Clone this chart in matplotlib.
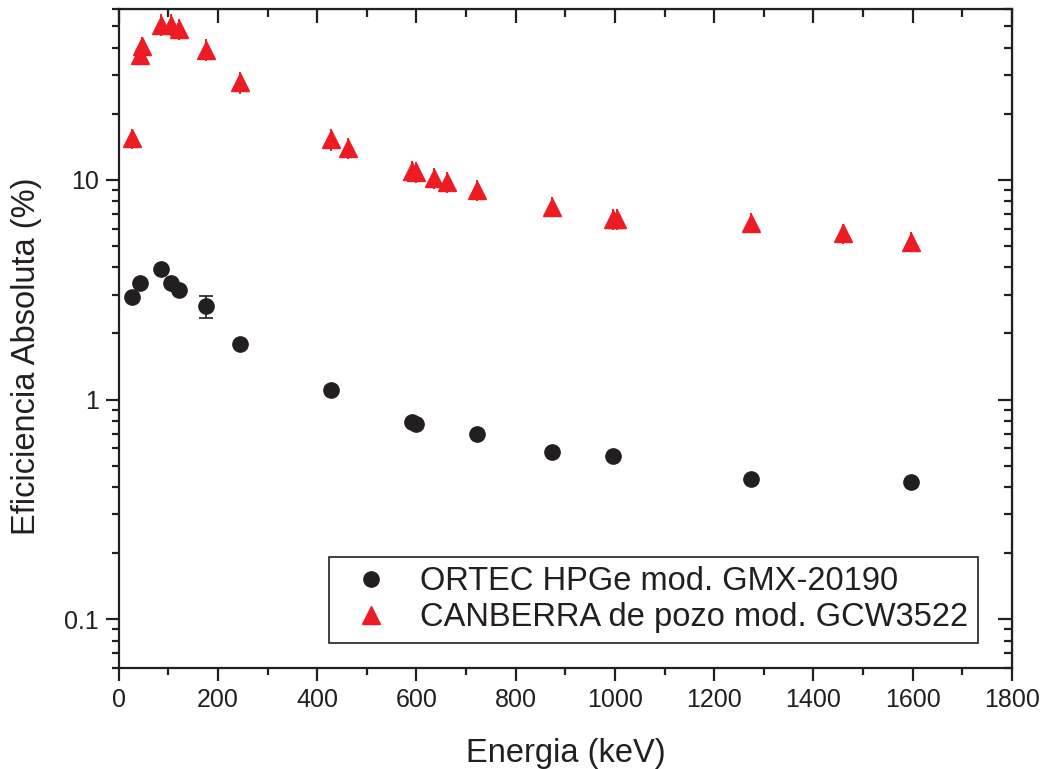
import matplotlib
matplotlib.use("Agg")
import matplotlib.pyplot as plt
from matplotlib.lines import Line2D
from matplotlib.ticker import LogLocator, MultipleLocator, FixedLocator, NullFormatter

plt.rcParams['font.family'] = ['Liberation Sans', 'DejaVu Sans']

# ORTEC HPGe (black circles)
ortec_e = [26, 42, 86, 105, 122, 176, 245, 427, 591, 600, 723, 873, 996, 1274, 1596]
ortec_eff = [2.92, 3.40, 3.94, 3.40, 3.15, 2.66, 1.79, 1.11, 0.79, 0.778, 0.697, 0.577, 0.555, 0.433, 0.420]
ortec_err = [0.06, 0.07, 0.08, 0.07, 0.07, 0.30, 0.04, 0.03, 0.02, 0.02, 0.015, 0.012, 0.012, 0.01, 0.01]

# CANBERRA well detector (red triangles)
canb_e = [26, 42, 46, 86, 105, 122, 176, 245, 427, 463, 591, 600, 636, 661, 723, 873, 996, 1005, 1274, 1460, 1596]
canb_eff = [15.5, 37.2, 40.5, 50.9, 50.9, 48.7, 39.2, 27.8, 15.3, 13.95, 10.98, 10.9, 10.2, 9.79, 9.0, 7.56, 6.64, 6.64, 6.39, 5.71, 5.23]
canb_err = [1.6, 4.0, 4.3, 5.8, 5.8, 5.5, 4.5, 3.1, 1.7, 1.5, 1.2, 1.2, 1.1, 1.05, 1.0, 0.8, 0.7, 0.7, 0.65, 0.6, 0.55]

labels = ['ORTEC HPGe mod. GMX-20190', 'CANBERRA de pozo mod. GCW3522']

ink = '#231f20'
red = '#ed1c24'

fig = plt.figure(figsize=(10.42, 7.69), dpi=100)
ax = fig.add_axes([0.1139, 0.1313, 0.9712 - 0.1139, 0.9883 - 0.1313])

ax.errorbar(ortec_e, ortec_eff, yerr=ortec_err, fmt='o', color=ink, ms=11,
            capsize=5, elinewidth=1.2, capthick=1.2, zorder=3)
ax.errorbar(canb_e, canb_eff, yerr=canb_err, fmt='^', color=red, ms=12.5,
            capsize=0, elinewidth=1.4, zorder=3)

ax.set_yscale('log')
ax.set_xlim(0, 1800)
ax.set_ylim(0.06, 60)
ax.xaxis.set_major_locator(MultipleLocator(200))
ax.xaxis.set_minor_locator(MultipleLocator(100))
ax.yaxis.set_major_locator(FixedLocator([0.1, 1, 10]))
ax.set_yticklabels(['0.1', '1', '10'])
ax.yaxis.set_minor_locator(LogLocator(base=10, subs=range(2, 10)))
ax.yaxis.set_minor_formatter(NullFormatter())

for s in ax.spines.values():
    s.set_linewidth(1.6)
    s.set_color(ink)

ax.tick_params(which='major', direction='out', length=9.5, width=1.6, labelsize=18,
               color=ink, labelcolor=ink, pad=5)
ax.tick_params(which='minor', direction='out', length=5, width=1.6, color=ink)

top = ax.secondary_xaxis('top')
top.xaxis.set_major_locator(MultipleLocator(200))
top.xaxis.set_minor_locator(MultipleLocator(100))
top.tick_params(which='major', direction='in', length=10, width=1.6, labeltop=False, color=ink)
top.tick_params(which='minor', direction='in', length=5.5, width=1.6, color=ink)

right = ax.secondary_yaxis('right')
right.yaxis.set_major_locator(FixedLocator([0.1, 1, 10]))
right.yaxis.set_minor_locator(LogLocator(base=10, subs=range(2, 10)))
right.tick_params(which='major', direction='in', length=10, width=1.6, labelright=False, color=ink)
right.tick_params(which='minor', direction='in', length=5.5, width=1.6, color=ink)
right.yaxis.set_minor_formatter(NullFormatter())

ax.set_xlabel('Energia (keV)', fontsize=23.5, color=ink, labelpad=18.5)
ax.set_ylabel('Eficiciencia Absoluta (%)', fontsize=23.5, color=ink)
ax.yaxis.set_label_coords(-0.0859, 0.473)

handles = [Line2D([], [], ls='none', marker='o', color=ink, ms=11),
           Line2D([], [], ls='none', marker='^', color=red, ms=12.5)]
leg = ax.legend(handles, labels, loc='lower right', bbox_to_anchor=(0.962, 0.038), fontsize=23.5,
                frameon=True, fancybox=False, edgecolor=ink, framealpha=1,
                borderpad=0.3, handletextpad=0.5, labelspacing=0.15, borderaxespad=0,
                handlelength=2.0)
leg.get_frame().set_linewidth(1.2)
for t in leg.get_texts():
    t.set_color(ink)

fig.savefig('out.png', dpi=100)
